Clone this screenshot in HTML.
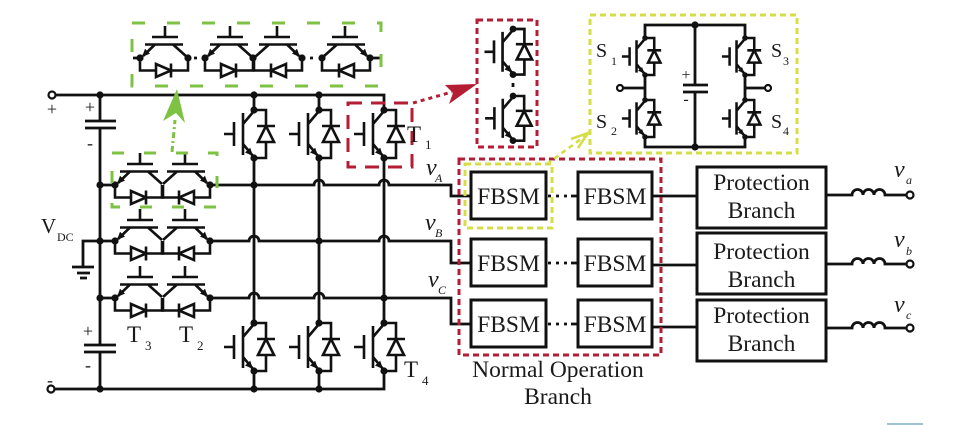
<!DOCTYPE html>
<html><head><meta charset="utf-8"><style>
html,body{margin:0;padding:0;background:#fff;}
svg{display:block;}
text{font-family:"Liberation Serif",serif;fill:#1a1a1a;}
</style></head><body>
<svg width="975" height="425" viewBox="0 0 975 425" xmlns="http://www.w3.org/2000/svg">
<defs>
 <g id="v" stroke="#111">
   <path d="M0,0 H12 V16 M12,32 V48 H0 M3,16 H21 M-11,3 V45 M-20,12 V36 M-30,24 H-20 M-11,14 L0,1 M-11,34 L-1,46" fill="none"/>
   <path d="M12,16 L4,32 H20 Z" fill="#fff"/>
   <polygon points="-1,46 -3.8,37.7 -9,42.5" fill="#111" stroke="none"/>
   <circle cx="0" cy="0" r="3.6" fill="#111" stroke="none"/>
   <circle cx="0" cy="48" r="3.6" fill="#111" stroke="none"/>
 </g>
 <g id="h" stroke="#111">
   <path d="M5,-13.5 H43 M12,-21 H38 M25,-21 V-32 M33,-13.5 L47,-1 M15,-13.5 L3,-2 M0,0 V12.5 H16 M31,12.5 H48 V0 M31,5.5 V19.5" fill="none"/>
   <path d="M16,6 L31,12.5 L16,19 Z" fill="#fff"/>
   <polygon points="2,-1 10,-4.4 5,-9.2" fill="#111" stroke="none"/>
 </g>
</defs>

<!-- main wiring -->
<g stroke="#111" stroke-width="2.8" fill="none">
 <path d="M52,95 H384 V110 M254,95 V110 M319,95 V110"/>
 <path d="M100,95 V121 M100,128 V345 M100,352 V389"/>
 <path d="M85,121 H116 M85,128 H116 M84,345 H116 M84,352 H116"/>
 <path d="M51,389 H384 V371 M254,389 V371 M319,389 V371"/>
 <path d="M254,158 V323 M319,158 V323 M384,158 V323"/>
 <path d="M100,185 H115 M210,185 H314 a5,5 0 0 1 10,0 H379 a5,5 0 0 1 10,0 H451 V196 H471"/>
 <path d="M83,267 V241 H115 M210,241 H249 a5,5 0 0 1 10,0 H379 a5,5 0 0 1 10,0 H451 V263 H471"/>
 <path d="M100,298 H115 M210,298 H249 a5,5 0 0 1 10,0 H314 a5,5 0 0 1 10,0 H451 V324 H471"/>
 <path d="M72,267 H94 M77,273 H90 M80,278 H87"/>
 <!-- top chain leads -->
 <path d="M133,58 H140 M370,58 H380 M194,58 h3 M310,58 h3"/>
 <!-- FBSM interconnect -->
 <path d="M548,196 h3 M556,196 h3 M564,196 h3 M571,196 H578"/>
 <path d="M548,263 h3 M556,263 h3 M564,263 h3 M571,263 H578"/>
 <path d="M548,324 h3 M556,324 h3 M564,324 h3 M571,324 H578"/>
 <path d="M652,196 H697 M652,265 H697 M652,327 H697"/>
 <!-- outputs -->
 <path d="M826,195 H852 a5.5,5.5 0 0 1 11,0 a5.5,5.5 0 0 1 11,0 a5.5,5.5 0 0 1 11,0 H906"/>
 <path d="M826,264 H852 a5.5,5.5 0 0 1 11,0 a5.5,5.5 0 0 1 11,0 a5.5,5.5 0 0 1 11,0 H906"/>
 <path d="M826,328 H852 a5.5,5.5 0 0 1 11,0 a5.5,5.5 0 0 1 11,0 a5.5,5.5 0 0 1 11,0 H906"/>
 <!-- FBSM detail -->
 <path d="M645,38 V25 H745 V38 M645,137 V147 H745 V137 M645,75 V100 M745,75 V100 M620,88 H645 M745,88 H768 M695,25 V85 M695,92 V147 M683,85 H708 M683,92 H708"/>
 <path d="M513,83 v4"/>
</g>
<g stroke="#111" stroke-width="3" fill="#fff">
 <rect x="471" y="172" width="75" height="47"/>
 <rect x="578" y="172" width="74" height="47"/>
 <rect x="471" y="239" width="75" height="47"/>
 <rect x="578" y="239" width="74" height="47"/>
 <rect x="471" y="300" width="75" height="47"/>
 <rect x="578" y="300" width="74" height="47"/>
 <rect x="697" y="167" width="129" height="61"/>
 <rect x="697" y="233" width="129" height="61"/>
 <rect x="697" y="300" width="129" height="61"/>
</g>

<!-- switches -->
<use href="#v" transform="translate(254,110)" stroke-width="2.6"/>
<use href="#v" transform="translate(319,110)" stroke-width="2.6"/>
<use href="#v" transform="translate(384,110)" stroke-width="2.6"/>
<use href="#v" transform="translate(254,323)" stroke-width="2.6"/>
<use href="#v" transform="translate(319,323)" stroke-width="2.6"/>
<use href="#v" transform="translate(384,323)" stroke-width="2.6"/>

<use href="#h" transform="translate(115,185)" stroke-width="2.6"/>
<use href="#h" transform="translate(210,185) scale(-1,1)" stroke-width="2.6"/>
<use href="#h" transform="translate(115,241)" stroke-width="2.6"/>
<use href="#h" transform="translate(210,241) scale(-1,1)" stroke-width="2.6"/>
<use href="#h" transform="translate(115,298)" stroke-width="2.6"/>
<use href="#h" transform="translate(210,298) scale(-1,1)" stroke-width="2.6"/>

<use href="#h" transform="translate(140,58)" stroke-width="2.6"/>
<use href="#h" transform="translate(205,58)" stroke-width="2.6"/>
<use href="#h" transform="translate(302,58) scale(-1,1)" stroke-width="2.6"/>
<use href="#h" transform="translate(370,58) scale(-1,1)" stroke-width="2.6"/>

<use href="#v" transform="translate(513,29) scale(0.95)" stroke-width="2.8"/>
<use href="#v" transform="translate(513,96) scale(0.93)" stroke-width="2.8"/>

<use href="#v" transform="translate(645,38) scale(0.77)" stroke-width="3.3"/>
<use href="#v" transform="translate(645,100) scale(0.77)" stroke-width="3.3"/>
<use href="#v" transform="translate(745,38) scale(0.77)" stroke-width="3.3"/>
<use href="#v" transform="translate(745,100) scale(0.77)" stroke-width="3.3"/>

<!-- dots -->
<g fill="#111">
 <circle cx="100" cy="95" r="3.6"/><circle cx="254" cy="95" r="3.6"/><circle cx="319" cy="95" r="3.6"/>
 <circle cx="100" cy="185" r="3.6"/><circle cx="254" cy="185" r="3.6"/>
 <circle cx="100" cy="241" r="3.6"/><circle cx="319" cy="241" r="3.6"/>
 <circle cx="100" cy="298" r="3.6"/><circle cx="384" cy="298" r="3.6"/>
 <circle cx="100" cy="389" r="3.6"/><circle cx="254" cy="389" r="3.6"/><circle cx="319" cy="389" r="3.6"/>
 <circle cx="115" cy="185" r="3.6"/><circle cx="210" cy="185" r="3.6"/>
 <circle cx="115" cy="241" r="3.6"/><circle cx="210" cy="241" r="3.6"/>
 <circle cx="115" cy="298" r="3.6"/><circle cx="210" cy="298" r="3.6"/>
 <circle cx="140" cy="58" r="3.6"/><circle cx="188" cy="58" r="3.6"/><circle cx="205" cy="58" r="3.6"/>
 <circle cx="253" cy="58" r="3.6"/><circle cx="302" cy="58" r="3.6"/><circle cx="322" cy="58" r="3.6"/><circle cx="370" cy="58" r="3.6"/>
 <circle cx="695" cy="25" r="3.6"/><circle cx="695" cy="147" r="3.6"/>
</g>
<g fill="#fff" stroke="#111" stroke-width="2.2">
 <circle cx="52" cy="95" r="3.5"/><circle cx="51" cy="389" r="3.5"/>
 <circle cx="910" cy="195" r="3.5"/><circle cx="910" cy="264" r="3.5"/><circle cx="910" cy="328" r="3.5"/>
 <circle cx="620" cy="88" r="3"/><circle cx="768" cy="88" r="3"/>
</g>

<!-- dashed boxes -->
<g fill="none" stroke-width="3">
 <rect x="132" y="23" width="249" height="63" stroke="#7ec244" stroke-dasharray="13 22"/>
 <rect x="112" y="153" width="105" height="54" stroke="#7ec244" stroke-dasharray="12 20"/>
 <rect x="348" y="103" width="64" height="64" stroke="#b41e35" stroke-dasharray="14 9"/>
 <rect x="477" y="20" width="60" height="127" stroke="#b41e35" stroke-dasharray="6 4"/>
 <rect x="459" y="159" width="202" height="196" stroke="#b41e35" stroke-dasharray="6 4"/>
 <rect x="465" y="164" width="87" height="64" stroke="#d4df48" stroke-dasharray="6 4"/>
 <rect x="590" y="15" width="207" height="138" stroke="#d4df48" stroke-dasharray="6 4"/>
</g>

<!-- arrows -->
<path d="M172,152 L175,120" stroke="#7ec244" stroke-width="3" stroke-dasharray="6 3 2 3" fill="none"/>
<polygon points="177,89 163,121 176,113 185,123" fill="#7ec244"/>
<path d="M413,103 L452,92" stroke="#b41e35" stroke-width="3" stroke-dasharray="4 4" fill="none"/>
<polygon points="477,84 445,85 453,93 449,104" fill="#b41e35"/>
<path d="M547,164 L585,136" stroke="#d4df48" stroke-width="2.6" stroke-dasharray="5 4" fill="none"/>
<polyline points="571,139 588,133 578,148" stroke="#d4df48" stroke-width="2.6" fill="none"/>

<rect x="887" y="423" width="36" height="2" fill="#9cc3cf"/>

<!-- text -->
<g font-size="18" text-anchor="middle">
 <text x="52" y="115">+</text>
 <text x="90" y="113">+</text>
 <text x="90" y="149">-</text>
 <text x="88" y="337">+</text>
 <text x="88" y="371">-</text>
 <text x="50" y="386">-</text>
</g>
<g font-size="16" text-anchor="middle">
 <text x="686" y="80">+</text>
 <text x="686" y="104">-</text>
</g>
<text x="41" y="233" font-size="21">V</text><text x="57" y="241" font-size="12">DC</text>
<text x="127" y="342" font-size="23">T</text><text x="145" y="350" font-size="13">3</text>
<text x="179" y="342" font-size="23">T</text><text x="197" y="350" font-size="13">2</text>
<text x="407" y="142" font-size="23">T</text><text x="425" y="149" font-size="13">1</text>
<text x="404" y="377" font-size="23">T</text><text x="422" y="385" font-size="13">4</text>

<g font-style="italic">
 <text x="426" y="175" font-size="24">v</text><text x="435" y="182" font-size="12">A</text>
 <text x="425" y="230" font-size="24">v</text><text x="435" y="237" font-size="12">B</text>
 <text x="428" y="287" font-size="24">v</text><text x="438" y="294" font-size="12">C</text>
 <text x="894" y="177" font-size="24">v</text><text x="906" y="184" font-size="12">a</text>
 <text x="894" y="247" font-size="24">v</text><text x="906" y="255" font-size="12">b</text>
 <text x="894" y="312" font-size="24">v</text><text x="906" y="319" font-size="12">c</text>
</g>

<text x="596" y="57" font-size="20">S</text><text x="611" y="65" font-size="12">1</text>
<text x="596" y="128" font-size="20">S</text><text x="611" y="135" font-size="12">2</text>
<text x="771" y="57" font-size="20">S</text><text x="783" y="65" font-size="12">3</text>
<text x="771" y="128" font-size="20">S</text><text x="783" y="135" font-size="12">4</text>

<g font-size="23.5" text-anchor="middle">
 <text x="508.5" y="204">FBSM</text><text x="615" y="204">FBSM</text>
 <text x="508.5" y="271">FBSM</text><text x="615" y="271">FBSM</text>
 <text x="508.5" y="332">FBSM</text><text x="615" y="332">FBSM</text>
 <text x="761.5" y="190">Protection</text><text x="761.5" y="218">Branch</text>
 <text x="761.5" y="259">Protection</text><text x="761.5" y="287">Branch</text>
 <text x="761.5" y="323">Protection</text><text x="761.5" y="351">Branch</text>
 <text x="558" y="377">Normal Operation</text>
 <text x="558" y="404">Branch</text>
</g>
</svg>
</body></html>
